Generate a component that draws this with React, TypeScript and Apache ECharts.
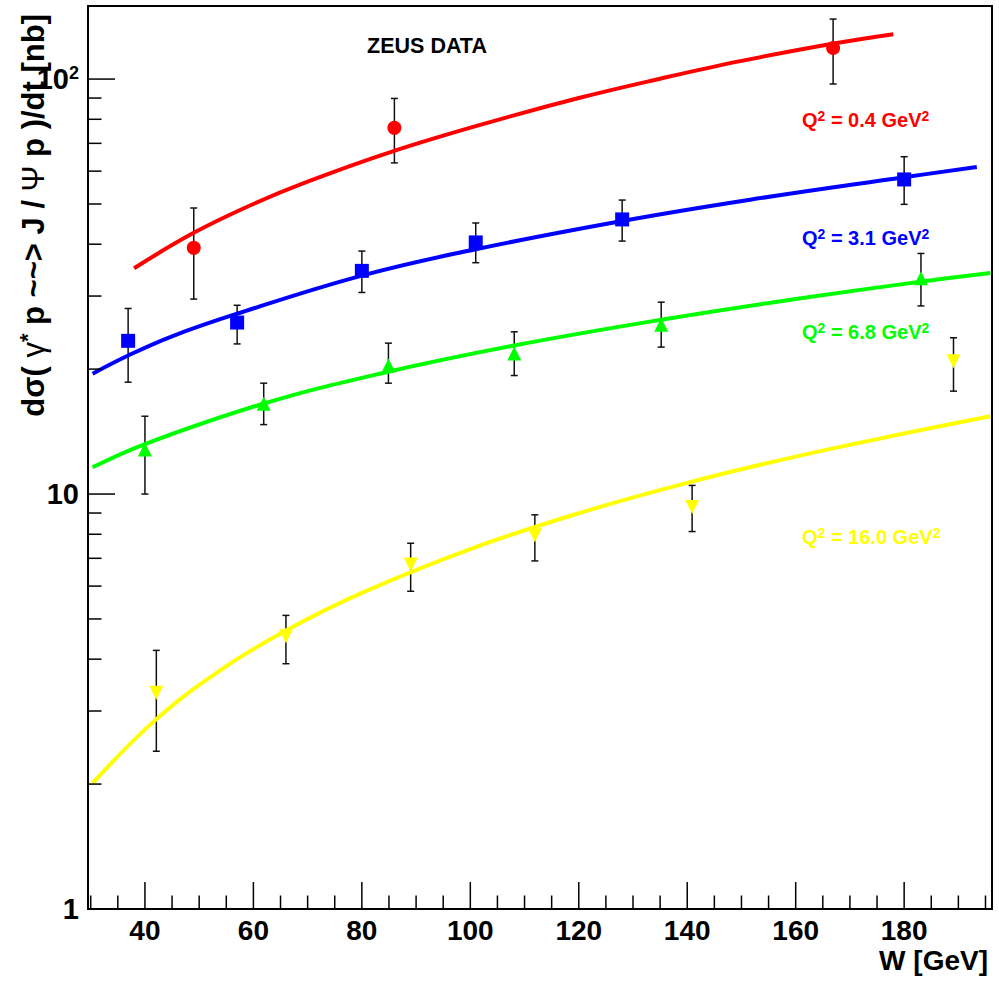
import React, { useEffect, useRef } from "react";
import * as echarts from "echarts";

// ---- axes ----
const X_RANGE = [29.5, 196.2];
const Y_RANGE = [1, 150];
const X_LABELS = [40, 60, 80, 100, 120, 140, 160, 180];
const X_MINOR = [30, 35, 45, 50, 55, 65, 70, 75, 85, 90, 95, 105, 110, 115, 125, 130, 135, 145, 150, 155, 165, 170, 175, 185, 190, 195];
const Y_LABELS = [1, 10, 100];
const Y_MINOR = [2, 3, 4, 5, 6, 7, 8, 9, 20, 30, 40, 50, 60, 70, 80, 90];

// ---- data points (W, value, low, high) ----
const W_RED = [49.0, 86.0, 166.9];
const V_RED = [39.2, 76.3, 118.8];
const LO_RED = [29.5, 62.8, 97.3];
const HI_RED = [48.9, 89.8, 139.5];

const W_BLUE = [36.9, 57.0, 80.0, 101.0, 128.0, 180.0];
const V_BLUE = [23.4, 25.9, 34.5, 40.4, 45.9, 57.3];
const LO_BLUE = [18.6, 23.0, 30.6, 36.1, 40.7, 49.9];
const HI_BLUE = [28.0, 28.5, 38.5, 45.0, 51.1, 65.0];

const W_GREEN = [40.0, 61.9, 84.9, 108.1, 135.2, 183.1];
const V_GREEN = [12.8, 16.5, 20.4, 21.8, 25.6, 33.1];
const LO_GREEN = [10.0, 14.7, 18.5, 19.3, 22.6, 28.4];
const HI_GREEN = [15.4, 18.5, 23.1, 24.6, 29.0, 38.0];

const W_YELLOW = [42.1, 66.0, 89.0, 111.9, 140.9, 189.1];
const V_YELLOW = [3.32, 4.54, 6.76, 7.96, 9.31, 20.9];
const LO_YELLOW = [2.4, 3.9, 5.83, 6.9, 8.12, 17.7];
const HI_YELLOW = [4.2, 5.1, 7.61, 8.91, 10.49, 23.8];

// ---- model curves ----
const CW_RED = [38, 49, 60, 70, 85, 101, 120, 135, 150, 167, 178];
const CV_RED = [35.0, 42.6, 50.0, 56.6, 66.5, 77.0, 90.0, 100.2, 110.6, 121.8, 128.3];

const CW_BLUE = [30.35, 37, 45, 57, 80, 101, 128, 151.6, 180, 193.4];
const CV_BLUE = [19.5, 21.6, 24.0, 27.2, 33.6, 38.9, 45.5, 51.2, 58.0, 61.4];

const CW_GREEN = [30.35, 40, 61.8, 83.3, 108.1, 135.2, 160, 183.1, 195.9];
const CV_GREEN = [11.6, 13.2, 16.5, 19.5, 22.8, 26.3, 29.5, 32.5, 34.1];

const CW_YELLOW = [30.35, 42, 54, 66, 80, 100, 120, 140, 160, 180, 195.9];
const CV_YELLOW = [2.01, 2.86, 3.77, 4.69, 5.78, 7.37, 8.99, 10.64, 12.31, 13.99, 15.4];

const Q2_VALUES = ["0.4", "3.1", "6.8", "16.0"];
const COLORS = ["#ff0000", "#0000ff", "#00ff00", "#ffff00"];

const FONT = '"Liberation Sans", Arial, Helvetica, sans-serif';

function zip(a: number[], b: number[]) {
  return a.map((x, i) => [x, b[i]]);
}

export default function App() {
  const ref = useRef<HTMLDivElement>(null);

  useEffect(() => {
    const chart = echarts.init(ref.current!, null, { renderer: "svg" });

    const groups = [
      { color: COLORS[0], symbol: "circle", rot: 0, w: W_RED, v: V_RED, lo: LO_RED, hi: HI_RED, cw: CW_RED, cv: CV_RED, q: Q2_VALUES[0], ly: 120 },
      { color: COLORS[1], symbol: "rect", rot: 0, w: W_BLUE, v: V_BLUE, lo: LO_BLUE, hi: HI_BLUE, cw: CW_BLUE, cv: CV_BLUE, q: Q2_VALUES[1], ly: 238 },
      { color: COLORS[2], symbol: "triangle", rot: 0, w: W_GREEN, v: V_GREEN, lo: LO_GREEN, hi: HI_GREEN, cw: CW_GREEN, cv: CV_GREEN, q: Q2_VALUES[2], ly: 332 },
      { color: COLORS[3], symbol: "triangle", rot: 180, w: W_YELLOW, v: V_YELLOW, lo: LO_YELLOW, hi: HI_YELLOW, cw: CW_YELLOW, cv: CV_YELLOW, q: Q2_VALUES[3], ly: 537 },
    ];

    const series: any[] = [];

    // axis ticks (ROOT style, inside the frame)
    series.push({
      type: "custom",
      silent: true,
      z: 6,
      clip: false,
      data: [[X_RANGE[0], Y_RANGE[0]]],
      encode: { x: 0, y: 1 },
      renderItem: (_p: any, api: any) => {
        const children: any[] = [];
        const line = (x1: number, y1: number, x2: number, y2: number) =>
          children.push({ type: "line", shape: { x1, y1, x2, y2 }, style: { stroke: "#000", lineWidth: 1.5 } });
        X_LABELS.forEach((t) => {
          const p = api.coord([t, Y_RANGE[0]]);
          line(p[0], p[1], p[0], p[1] - 27);
        });
        X_MINOR.forEach((t) => {
          const p = api.coord([t, Y_RANGE[0]]);
          line(p[0], p[1], p[0], p[1] - 13.5);
        });
        Y_LABELS.forEach((t) => {
          const p = api.coord([X_RANGE[0], t]);
          line(p[0], p[1], p[0] + 27, p[1]);
        });
        Y_MINOR.forEach((t) => {
          const p = api.coord([X_RANGE[0], t]);
          line(p[0], p[1], p[0] + 13.5, p[1]);
        });
        return { type: "group", children };
      },
    });

    groups.forEach((g) => {
      // error bars
      series.push({
        type: "custom",
        silent: true,
        z: 2,
        clip: false,
        data: g.w.map((w, i) => [w, g.lo[i], g.hi[i]]),
        encode: { x: 0, y: [1, 2] },
        renderItem: (_p: any, api: any) => {
          const x = api.value(0);
          const top = api.coord([x, api.value(2)]);
          const bot = api.coord([x, api.value(1)]);
          const c = 3.5;
          const st = { stroke: "#111", lineWidth: 1.5 };
          return {
            type: "group",
            children: [
              { type: "line", shape: { x1: top[0], y1: top[1], x2: bot[0], y2: bot[1] }, style: st },
              { type: "line", shape: { x1: top[0] - c, y1: top[1], x2: top[0] + c, y2: top[1] }, style: st },
              { type: "line", shape: { x1: bot[0] - c, y1: bot[1], x2: bot[0] + c, y2: bot[1] }, style: st },
            ],
          };
        },
      });
      // model curve
      series.push({
        type: "line",
        z: 3,
        data: zip(g.cw, g.cv),
        smooth: 0.4,
        showSymbol: false,
        symbol: "none",
        silent: true,
        lineStyle: { color: g.color, width: 4 },
      });
      // markers
      series.push({
        type: "scatter",
        z: 4,
        data: zip(g.w, g.v),
        symbol: g.symbol,
        symbolRotate: g.rot,
        symbolSize: 14,
        silent: true,
        itemStyle: { color: g.color, opacity: 1 },
      });
    });

    const labelRich = (color: string) => ({
      a: { fontSize: 20, fontWeight: "bold", fontFamily: FONT, fill: color, lineHeight: 22 },
      s: { fontSize: 14, fontWeight: "bold", fontFamily: FONT, fill: color, verticalAlign: "top", lineHeight: 13 },
    });

    const graphic: any[] = [
      {
        type: "text",
        x: 427,
        y: 46,
        style: { text: "ZEUS DATA", fontSize: 21.5, fontWeight: "bold", fontFamily: FONT, fill: "#000", align: "center", verticalAlign: "middle" },
      },
      {
        type: "text",
        x: 988,
        y: 960,
        style: { text: "W [GeV]", fontSize: 28, fontWeight: "bold", fontFamily: FONT, fill: "#000", align: "right", verticalAlign: "middle" },
      },
      {
        type: "text",
        x: 33,
        y: 14,
        rotation: Math.PI / 2,
        style: {
          text: "{b|dσ( }{g|γ}{s|*}{b| p ~~> J / }{g|Ψ}{b| p )/dt [nb]}",
          align: "right",
          verticalAlign: "middle",
          rich: {
            b: { fontSize: 31, fontWeight: "bold", fontFamily: FONT, fill: "#000", lineHeight: 33 },
            g: { fontSize: 31, fontWeight: "normal", fontFamily: FONT, fill: "#000", lineHeight: 33 },
            s: { fontSize: 22, fontWeight: "bold", fontFamily: FONT, fill: "#000", verticalAlign: "top", lineHeight: 22 },
          },
        },
      },
      ...groups.map((g) => ({
        type: "text",
        x: 802,
        y: g.ly,
        style: {
          text: `{a|Q}{s|2}{a| = ${g.q} GeV}{s|2}`,
          align: "left",
          verticalAlign: "middle",
          rich: labelRich(g.color),
        },
      })),
    ];

    chart.setOption({
      animation: false,
      backgroundColor: "#ffffff",
      grid: {
        left: 88,
        right: 7,
        top: 6,
        bottom: 74,
        show: true,
        borderColor: "#000",
        borderWidth: 2,
        backgroundColor: "transparent",
        containLabel: false,
        outerBoundsMode: "none",
      },
      xAxis: {
        type: "value",
        min: X_RANGE[0],
        max: X_RANGE[1],
        splitNumber: 8,
        splitLine: { show: false },
        axisTick: { show: false },
        axisLine: { show: false },
        axisLabel: {
          fontSize: 28,
          fontWeight: "bold",
          fontFamily: FONT,
          color: "#000",
          margin: 7,
          formatter: (v: number) => {
            const r = Math.round(v * 1000) / 1000;
            return X_LABELS.includes(r) ? String(r) : "";
          },
        },
      },
      yAxis: {
        type: "log",
        logBase: 10,
        min: Y_RANGE[0],
        max: Y_RANGE[1],
        splitLine: { show: false },
        axisTick: { show: false },
        axisLine: { show: false },
        axisLabel: {
          margin: 9,
          fontSize: 29,
          fontWeight: "bold",
          fontFamily: FONT,
          color: "#000",
          formatter: (v: number) => {
            const r = Math.round(v);
            if (!Y_LABELS.includes(r) || Math.abs(v - r) > 1e-6) return "";
            if (r === 100) return "{b|10}{s|2}";
            return `{b|${r}}`;
          },
          rich: {
            b: { fontSize: 29, fontWeight: "bold", fontFamily: FONT, color: "#000", lineHeight: 30 },
            s: { fontSize: 18, fontWeight: "bold", fontFamily: FONT, color: "#000", verticalAlign: "top", lineHeight: 18 },
          },
        },
      },
      graphic,
      series,
    });

    return () => chart.dispose();
  }, []);

  return (
    <div
      ref={ref}
      style={{ position: "absolute", left: 0, top: 0, width: 999, height: 983, background: "#fff" }}
    />
  );
}
